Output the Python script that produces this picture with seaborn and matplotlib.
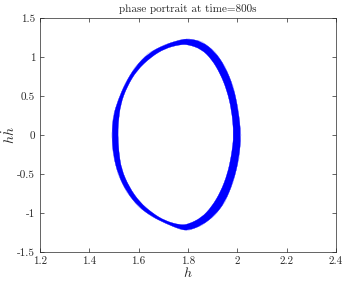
import matplotlib
matplotlib.use('Agg')
import matplotlib.pyplot as plt
from matplotlib.path import Path
from matplotlib.patches import PathPatch
import seaborn as sns

# outer edge of the band (h, h*hdot), clockwise from the left side
outer_h = [1.491, 1.497, 1.517, 1.545, 1.585, 1.639, 1.707, 1.768, 1.801, 1.856,
           1.909, 1.950, 1.984, 2.004, 2.015, 2.007, 1.984, 1.950, 1.909, 1.856,
           1.801, 1.768, 1.707, 1.653, 1.599, 1.551, 1.517, 1.497]
outer_hhdot = [0.0, 0.25, 0.45, 0.66, 0.87, 1.05, 1.16, 1.22, 1.235, 1.20,
               1.07, 0.88, 0.62, 0.32, 0.0, -0.30, -0.60, -0.86, -1.03, -1.16,
               -1.225, -1.21, -1.13, -1.045, -0.92, -0.73, -0.51, -0.26]

# inner edge of the band
inner_h = [1.516, 1.517, 1.527, 1.553, 1.593, 1.650, 1.707, 1.768, 1.801, 1.855,
           1.896, 1.930, 1.957, 1.977, 1.986, 1.977, 1.960, 1.932, 1.896, 1.855,
           1.801, 1.768, 1.707, 1.655, 1.604, 1.562, 1.530, 1.519]
inner_hhdot = [0.0, 0.15, 0.40, 0.62, 0.83, 1.00, 1.11, 1.16, 1.16, 1.10,
               0.97, 0.79, 0.58, 0.32, 0.0, -0.25, -0.50, -0.73, -0.92, -1.06,
               -1.145, -1.155, -1.10, -1.00, -0.86, -0.67, -0.44, -0.20]

x_ticks = [1.2, 1.4, 1.6, 1.8, 2.0, 2.2, 2.4]
x_tick_labels = ['1.2', '1.4', '1.6', '1.8', '2', '2.2', '2.4']
y_ticks = [-1.5, -1.0, -0.5, 0.0, 0.5, 1.0, 1.5]
y_tick_labels = ['-1.5', '-1', '-0.5', '0', '0.5', '1', '1.5']


def smooth_loop(xs, ys):
    # closed quadratic bezier path using the read points as control points
    n = len(xs)
    mid = [((xs[i] + xs[(i + 1) % n]) / 2, (ys[i] + ys[(i + 1) % n]) / 2) for i in range(n)]
    verts = [mid[-1]]
    codes = [Path.MOVETO]
    for i in range(n):
        verts += [(xs[i], ys[i]), mid[i]]
        codes += [Path.CURVE3, Path.CURVE3]
    return verts, codes


sns.set_theme(style='white')
plt.rcParams['font.family'] = ['cmr10', 'DejaVu Serif']
plt.rcParams['mathtext.fontset'] = 'cm'
plt.rcParams['axes.unicode_minus'] = False

fig = plt.figure(figsize=(3.46, 2.81), dpi=100)
ax = fig.add_axes([0.1156, 0.1032, 0.8555, 0.8327])

# band = outer loop minus inner loop (inner drawn the other way round)
v1, c1 = smooth_loop(outer_h, outer_hhdot)
v2, c2 = smooth_loop(inner_h[::-1], inner_hhdot[::-1])
band = Path(v1 + v2, c1 + c2)
ax.add_patch(PathPatch(band, facecolor='#0000ff', edgecolor='#0000ff', lw=0.2))

# thin edges of the band
outer_x = outer_h + outer_h[:1]
outer_y = outer_hhdot + outer_hhdot[:1]
inner_x = inner_h + inner_h[:1]
inner_y = inner_hhdot + inner_hhdot[:1]
sns.lineplot(x=outer_x, y=outer_y, sort=False, estimator=None, color='#0000ff', lw=0.1, ax=ax)
sns.lineplot(x=inner_x, y=inner_y, sort=False, estimator=None, color='#0000ff', lw=0.1, ax=ax)

ax.set_xlim(1.2, 2.4)
ax.set_ylim(-1.5, 1.5)
ax.set_xticks(x_ticks, labels=x_tick_labels)
ax.set_yticks(y_ticks, labels=y_tick_labels)
ax.tick_params(direction='in', length=3, width=0.5, top=True, right=True,
               bottom=True, left=True, labelsize=8, pad=3.5, colors='#262626')
for s in ax.spines.values():
    s.set_visible(True)
    s.set_color('#262626')
    s.set_linewidth(0.5)

ax.set_title('phase portrait at time=800s', fontsize=8, pad=4.5)
ax.set_xlabel('$h$', fontsize=10, labelpad=0)
ax.set_ylabel('$h\\dot{h}$', fontsize=10)
ax.yaxis.set_label_coords(-0.075, 0.5)

fig.savefig('out.png', dpi=100)
